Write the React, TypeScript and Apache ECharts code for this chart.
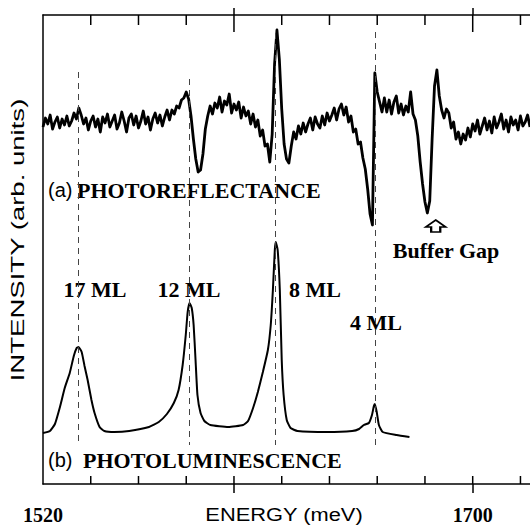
import { useEffect, useRef } from "react";
import * as echarts from "echarts";

// ---------- data ----------
const energyLabels = [1520, 1700];
const minorTicks = [1540, 1560, 1580, 1600, 1620, 1640, 1660, 1680, 1700, 1720];
const majorTicks = [1600, 1700];

// Photoreflectance spectrum, sampled every 1 meV starting at 1520 meV
const prStartEnergy = 1520;
const prValues = [
  357, 366, 360, 369, 355, 362, 367, 356, 365, 359,
  368, 358, 363, 371, 365, 376, 369, 360, 366, 354,
  363, 368, 357, 365, 352, 367, 361, 370, 357, 363,
  369, 355, 361, 372, 363, 352, 366, 370, 359, 368,
  356, 363, 373, 360, 367, 354, 365, 371, 361, 369,
  358, 367, 374, 364, 374, 370, 378, 376, 384, 386,
  392, 385, 368, 345, 325, 312, 314, 330, 355, 368,
  378, 370, 381, 376, 387, 372, 383, 379, 390, 371,
  380, 374, 382, 366, 377, 368, 373, 360, 370, 357,
  364, 348, 354, 338, 340, 322, 350, 420, 454, 425,
  375, 340, 325, 321, 338, 352, 345, 358, 350, 361,
  352, 360, 366, 354, 367, 360, 356, 368, 359, 371,
  363, 369, 376, 364, 375, 380, 369, 377, 362, 368,
  352, 355, 340, 342, 326, 315, 295, 270, 259, 411,
  392, 382, 372, 386, 372, 384, 370, 382, 388, 371,
  380, 369, 378, 372, 392, 370, 364, 348, 322, 300,
  282, 271, 283, 345, 398, 414, 388, 374, 366, 375,
  371, 356, 362, 345, 352, 340, 350, 344, 356, 347,
  360, 353, 364, 350, 358, 366, 354, 363, 351, 367,
  356, 362, 370, 355, 364, 352, 367, 359, 364, 354,
  368, 358, 362, 369, 357,
];

// Photoluminescence spectrum
const plEnergy = [
  1520.0, 1522.9, 1525.0, 1527.1, 1529.1, 1531.2, 1532.9, 1534.1, 1534.9, 1536.2,
  1537.4, 1538.7, 1540.3, 1541.6, 1543.7, 1545.7, 1549.9, 1556.1, 1564.4, 1568.5,
  1571.9, 1574.8, 1576.8, 1578.5, 1579.8, 1580.6, 1581.4, 1582.3, 1583.1, 1583.9,
  1584.7, 1586.0, 1587.6, 1590.1, 1597.6, 1603.8, 1605.9, 1608.0, 1610.0, 1612.1,
  1614.2, 1615.4, 1616.3, 1617.1, 1617.5, 1618.3, 1619.2, 1620.0, 1620.8, 1622.1,
  1623.7, 1626.6, 1639.1, 1649.5, 1652.4, 1654.4, 1656.5, 1657.8, 1658.6, 1659.0,
  1659.8, 1660.7, 1662.3, 1668.1, 1673.5,
];
const plValues = [
  51, 53, 60, 77, 96, 111, 128, 136, 137, 132,
  118, 104, 84, 71, 57, 53, 52, 53, 57, 62,
  70, 81, 94, 119, 149, 172, 181, 176, 159, 124,
  89, 71, 63, 59, 57, 59, 63, 76, 92, 112,
  134, 159, 194, 234, 242, 234, 194, 124, 89, 64,
  56, 53, 52, 53, 55, 59, 61, 69, 78, 80,
  72, 59, 52, 49, 47,
];

// Well peaks (dashed guide lines)
const peakEnergies = [1534.9, 1581.3, 1617.4, 1659.1];
const peakDashTop = [412, 405, 451, 452];
const peakDashBottom = 39;
const bufferGapEnergy = 1684.5;

const yMax = 469;

export default function App() {
  const ref = useRef<HTMLDivElement>(null);

  useEffect(() => {
    if (!ref.current) return;
    const chart = echarts.init(ref.current, undefined, { renderer: "svg" });
    const black = "#000";
    const axisLineStyle = { color: black, width: 1.5 };
    const serifBold = { fontFamily: "Liberation Serif", fontWeight: "bold" as const, fontSize: 22, fill: black };

    const prData = prValues.map((v, i) => [prStartEnergy + i, v]);
    const plData = plEnergy.map((e, i) => [e, plValues[i]]);

    const baseX = {
      type: "value" as const,
      min: 1520,
      max: 1724,
      interval: 20,
      splitLine: { show: false },
    };
    const tickAxis = (position: string, length: number, values: number[]) => ({
      ...baseX,
      position,
      axisLine: { show: false, onZero: false },
      axisTick: { show: true, inside: false, length, customValues: values, lineStyle: axisLineStyle },
      axisLabel: { show: false },
    });

    const option: any = {
      animation: false,
      backgroundColor: "#fff",
      grid: { left: 43, top: 15, width: 492, height: 469 },
      xAxis: [
        {
          ...baseX,
          position: "bottom",
          axisLine: { show: true, onZero: false, lineStyle: axisLineStyle },
          axisTick: { show: false },
          axisLabel: {
            show: true,
            customValues: energyLabels,
            margin: 21,
            fontFamily: "Liberation Serif",
            fontWeight: "bold",
            fontSize: 20,
            color: black,
            formatter: (v: number) => String(v),
          },
        },
        tickAxis("bottom", 9, majorTicks),
        {
          ...baseX,
          position: "top",
          axisLine: { show: true, onZero: false, lineStyle: axisLineStyle },
          axisTick: { show: false },
          axisLabel: { show: false },
        },
        tickAxis("top", 7, majorTicks),
      ],
      yAxis: {
        type: "value",
        min: 0,
        max: yMax,
        axisLine: { show: true, onZero: false, lineStyle: axisLineStyle },
        axisTick: { show: false },
        axisLabel: { show: false },
        splitLine: { show: false },
      },
      series: [
        {
          name: "Photoreflectance",
          type: "line",
          data: prData,
          symbol: "none",
          lineStyle: { color: black, width: 2.8, join: "round" },
          z: 3,
          markPoint: {
            silent: true,
            symbol: "path://M11,0 L22,7 L16,7 L16,12 L6,12 L6,7 L0,7 Z",
            symbolSize: [20, 12],
            itemStyle: { color: "#fff", borderColor: black, borderWidth: 1.8 },
            label: { show: false },
            data: [{ coord: [bufferGapEnergy, 258] }],
          },
        },
        {
          name: "Photoluminescence",
          type: "line",
          data: plData,
          symbol: "none",
          smooth: 0.15,
          lineStyle: { color: black, width: 2 },
          z: 3,
          markLine: {
            silent: true,
            symbol: ["none", "none"],
            label: { show: false },
            lineStyle: { color: "#444", width: 1, type: [6, 5] },
            data: peakEnergies.map((e, i) => [
              { coord: [e, peakDashTop[i]] },
              { coord: [e, peakDashBottom] },
            ]),
          },
        },
        {
          name: "ticks",
          type: "custom",
          silent: true,
          z: 5,
          data: minorTicks.map((e) => [e, 0]),
          renderItem: (_params: any, api: any) => {
            const e = api.value(0);
            const b = api.coord([e, 0]);
            const t = api.coord([e, yMax]);
            const inner = majorTicks.indexOf(e) >= 0 ? 17 : 10;
            return {
              type: "group",
              children: [
                {
                  type: "line",
                  shape: { x1: b[0], y1: b[1], x2: b[0], y2: b[1] - 8 },
                  style: { stroke: black, lineWidth: 1.5 },
                },
                {
                  type: "line",
                  shape: { x1: t[0], y1: t[1], x2: t[0], y2: t[1] + inner },
                  style: { stroke: black, lineWidth: 1.5 },
                },
              ],
            };
          },
        },
      ],
      graphic: [
        {
          type: "text",
          x: 18,
          y: 240,
          rotation: Math.PI / 2,
          scaleX: 1.45,
          style: {
            text: "INTENSITY (arb. units)",
            fontFamily: "Liberation Sans",
            fontSize: 19,
            fill: black,
            textAlign: "center",
            textVerticalAlign: "middle",
          },
        },
        {
          type: "text",
          x: 284,
          y: 514,
          scaleX: 1.15,
          style: {
            text: "ENERGY (meV)",
            fontFamily: "Liberation Sans",
            fontSize: 19,
            fill: black,
            textAlign: "center",
            textVerticalAlign: "middle",
          },
        },
        {
          type: "text",
          x: 48,
          y: 190,
          style: { text: "(a)", fontFamily: "Liberation Sans", fontSize: 20, fill: black, textAlign: "left", textVerticalAlign: "middle" },
        },
        {
          type: "text",
          x: 77,
          y: 190,
          style: { text: "PHOTOREFLECTANCE", ...serifBold, textAlign: "left", textVerticalAlign: "middle" },
        },
        {
          type: "text",
          x: 48,
          y: 460,
          style: { text: "(b)", fontFamily: "Liberation Sans", fontSize: 20, fill: black, textAlign: "left", textVerticalAlign: "middle" },
        },
        {
          type: "text",
          x: 83,
          y: 460,
          style: { text: "PHOTOLUMINESCENCE", ...serifBold, textAlign: "left", textVerticalAlign: "middle" },
        },
        {
          type: "text",
          x: 95,
          y: 289,
          style: { text: "17 ML", ...serifBold, textAlign: "center", textVerticalAlign: "middle" },
        },
        {
          type: "text",
          x: 189,
          y: 289,
          style: { text: "12 ML", ...serifBold, textAlign: "center", textVerticalAlign: "middle" },
        },
        {
          type: "text",
          x: 315,
          y: 289,
          style: { text: "8 ML", ...serifBold, textAlign: "center", textVerticalAlign: "middle" },
        },
        {
          type: "text",
          x: 376,
          y: 322,
          style: { text: "4 ML", ...serifBold, textAlign: "center", textVerticalAlign: "middle" },
        },
        {
          type: "text",
          x: 446,
          y: 250,
          style: { text: "Buffer Gap", ...serifBold, textAlign: "center", textVerticalAlign: "middle" },
        },
      ],
    };

    chart.setOption(option);
    return () => chart.dispose();
  }, []);

  return (
    <div
      ref={ref}
      style={{ position: "fixed", left: 0, top: 0, width: 530, height: 527, background: "#fff" }}
    />
  );
}
